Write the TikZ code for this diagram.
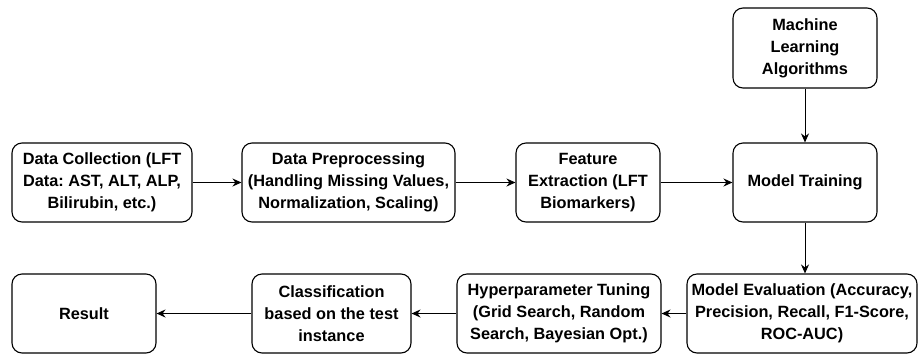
\documentclass[tikz,border=0pt]{standalone}
\usepackage{fontspec}
\setmainfont{Liberation Sans}
\usetikzlibrary{positioning,shapes,arrows.meta}
\frenchspacing

\begin{document}
\begin{tikzpicture}[x=1pt, y=-1pt,
    box/.style={draw, rounded corners=10pt, line width=1.1pt, align=center,
        inner sep=0pt, minimum height=79pt, font=\fontsize{16.3}{22}\selectfont\bfseries},
    arr/.style={-{Stealth[length=9pt,width=8pt]}, line width=1pt}]
    \useasboundingbox (0,0) rectangle (920,354);

    % Top box
    \node[box, minimum width=144pt, minimum height=80pt] (ml) at (805,48) {Machine\\Learning\\Algorithms};

    % Middle row
    \node[box, minimum width=180pt] (collect) at (102,182.5) {Data Collection (LFT\\Data: AST, ALT, ALP,\\Bilirubin, etc.)};
    \node[box, minimum width=213pt] (prep) at (348.5,182.5) {Data Preprocessing\\(Handling Missing Values,\\Normalization, Scaling)};
    \node[box, minimum width=144pt] (feat) at (588,182.5) {Feature\\Extraction (LFT\\Biomarkers)};
    \node[box, minimum width=144pt] (train) at (805,182.5) {Model Training};

    % Bottom row
    \node[box, minimum width=230pt] (eval) at (802,313.5) {Model Evaluation (Accuracy,\\Precision, Recall, F1-Score,\\ROC-AUC)};
    \node[box, minimum width=204pt] (tune) at (559,313.5) {Hyperparameter Tuning\\(Grid Search, Random\\Search, Bayesian Opt.)};
    \node[box, minimum width=159pt] (classify) at (331.5,313.5) {Classification\\based on the test\\instance};
    \node[box, minimum width=144pt] (result) at (84,313.5) {Result};

    % Arrows
    \draw[arr] (collect) -- (prep);
    \draw[arr] (prep) -- (feat);
    \draw[arr] (feat) -- (train);
    \draw[arr] (ml) -- (train);
    \draw[arr] (train.south) -- (train.south |- eval.north);
    \draw[arr] (eval) -- (tune);
    \draw[arr] (tune) -- (classify);
    \draw[arr] (classify) -- (result);
\end{tikzpicture}
\end{document}
